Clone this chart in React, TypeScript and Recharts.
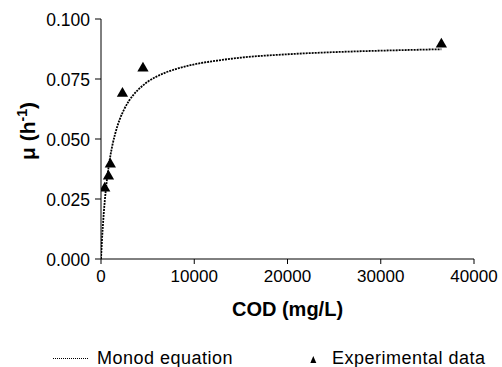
import React from 'react';
import { ComposedChart, Line, Scatter, XAxis, YAxis, ZAxis } from 'recharts';

const expCod = [400, 800, 1000, 2300, 4500, 36500];
const expMu = [0.0295, 0.0345, 0.0395, 0.069, 0.0795, 0.0895];

const monodCod = [0, 50, 100, 200, 300, 400, 600, 800, 1000, 1250, 1500, 2000, 2500, 3000, 3500, 4000, 5000, 6000, 7000, 8000, 10000, 12500, 15000, 20000, 25000, 30000, 36500];
const monodMu = [0, 0.0039, 0.0075, 0.0138, 0.0193, 0.024, 0.0318, 0.0379, 0.0429, 0.0479, 0.0519, 0.0581, 0.0625, 0.0659, 0.0685, 0.0706, 0.0738, 0.0761, 0.0778, 0.0791, 0.0811, 0.0827, 0.0839, 0.0853, 0.0862, 0.0868, 0.0874];

const xTicks = [0, 10000, 20000, 30000, 40000];
const yTicks = [0, 0.025, 0.05, 0.075, 0.1];

const expData = expCod.map((c, i) => ({ x: c, y: expMu[i] }));
const monodData = monodCod.map((c, i) => ({ x: c, y: monodMu[i] }));

const FONT = '"Liberation Sans", Arial, Helvetica, sans-serif';

const XTick = (props: any) => {
  const { x, y, payload } = props;
  return (
    <text x={x} y={y} dy={18} textAnchor="middle" fontFamily={FONT} fontSize={17} fill="#000">
      {String(payload.value)}
    </text>
  );
};

const YTick = (props: any) => {
  const { x, y, payload } = props;
  return (
    <text x={x} y={y} dy={7} textAnchor="end" fontFamily={FONT} fontSize={17.5} fill="#000">
      {Number(payload.value).toFixed(3)}
    </text>
  );
};

const XLabel = (props: any) => {
  const vb = props.viewBox || {};
  const cx = vb.x + vb.width / 2;
  return (
    <text x={cx} y={vb.y + 57} textAnchor="middle" fontFamily={FONT} fontSize={20} fontWeight="bold" fill="#000">
      COD (mg/L)
    </text>
  );
};

const YLabel = () => {
  const cx = 35;
  const cy = 131;
  return (
    <text x={cx} y={cy} transform={`rotate(-90, ${cx}, ${cy})`} textAnchor="middle" fontFamily={FONT} fontSize={21} fontWeight="bold" fill="#000">
      μ (h<tspan dy={-8} fontSize={14}>-1</tspan><tspan dy={8}>)</tspan>
    </text>
  );
};

export default function App() {
  return (
    <div style={{ position: 'absolute', left: 0, top: 0, width: 502, height: 367, background: '#fff' }}>
      <ComposedChart
        width={502}
        height={367}
        margin={{ top: 19, right: 28, bottom: 48, left: 0 }}
      >
        <XAxis
          type="number"
          dataKey="x"
          domain={[0, 40000]}
          ticks={xTicks}
          allowDataOverflow
          stroke="#000"
          tickSize={5}
          tickMargin={0}
          height={60}
          tick={<XTick />}
          tickLine={{ stroke: '#000' }}
          axisLine={{ stroke: '#000' }}
          label={<XLabel />}
        />
        <YAxis
          type="number"
          dataKey="y"
          domain={[0, 0.1]}
          ticks={yTicks}
          allowDataOverflow
          width={101}
          stroke="#000"
          tickSize={6}
          tickMargin={5}
          tick={<YTick />}
          tickLine={{ stroke: '#000' }}
          axisLine={{ stroke: '#000' }}
          label={<YLabel />}
        />
        <ZAxis type="number" range={[55, 55]} />
        <Line
          data={monodData}
          dataKey="y"
          type="monotone"
          stroke="#000"
          strokeWidth={1.8}
          strokeDasharray="2 1"
          dot={false}
          activeDot={false}
          isAnimationActive={false}
          legendType="none"
        />
        <Scatter
          data={expData}
          dataKey="y"
          shape="triangle"
          fill="#000"
          isAnimationActive={false}
        />
      </ComposedChart>
      <svg width={502} height={367} style={{ position: 'absolute', left: 0, top: 0, pointerEvents: 'none' }}>
        <line x1={53} x2={88} y1={358.5} y2={358.5} stroke="#000" strokeWidth={1} strokeDasharray="1 1" />
        <text x={97} y={364} fontFamily={FONT} fontSize={18} letterSpacing={0.5} fill="#000">Monod equation</text>
        <polygon points="313.3,356 310.3,363 316.3,363" fill="#000" />
        <text x={332} y={364} fontFamily={FONT} fontSize={18} letterSpacing={0.5} fill="#000">Experimental data</text>
      </svg>
    </div>
  );
}
